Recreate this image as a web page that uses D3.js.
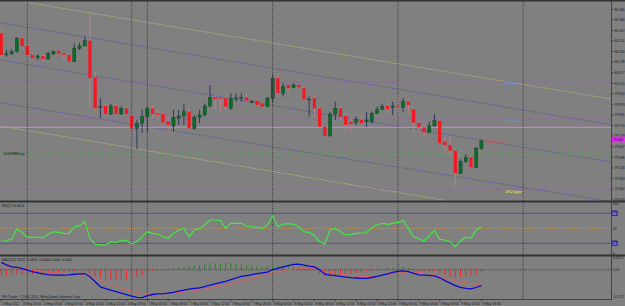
<!DOCTYPE html>
<html><head><meta charset="utf-8">
<script src="https://cdn.jsdelivr.net/npm/d3@7"></script>
<style>html,body{margin:0;padding:0;background:#808080;overflow:hidden}svg{display:block}text{font-family:"Liberation Sans",Arial,sans-serif}</style>
</head><body><svg id="c" width="625" height="306"></svg>
<script>
// ---------- DATA (USDJPY H1) ----------
const open = [80.306,80.183,80.186,80.199,80.277,80.232,80.180,80.166,80.174,80.157,
80.186,80.205,80.190,80.180,80.141,80.219,80.232,80.263,80.050,79.878,
79.884,79.837,79.884,79.837,79.870,79.826,79.754,79.783,79.822,79.870,
79.841,79.837,79.793,79.768,79.812,79.826,79.851,79.754,79.818,79.832,
79.884,79.934,79.930,79.929,79.870,79.927,79.929,79.934,79.907,79.915,
79.899,79.880,79.929,80.045,79.958,80.006,79.992,80.006,79.987,79.921,
79.929,79.870,79.764,79.710,79.837,79.870,79.826,79.793,79.787,79.803,
79.793,79.793,79.841,79.865,79.884,79.876,79.885,79.876,79.909,79.865,
79.787,79.760,79.731,79.768,79.798,79.677,79.657,79.624,79.493,79.561,
79.586,79.528,79.638];
const high = [80.336,80.209,80.213,80.284,80.281,80.238,80.193,80.184,80.180,80.199,
80.205,80.209,80.194,80.190,80.248,80.251,80.286,80.409,80.083,79.930,
79.895,79.895,79.890,79.884,79.878,79.837,79.803,79.861,79.880,79.884,
79.861,79.849,79.822,79.861,79.861,79.899,79.880,79.832,79.861,79.899,
80.006,79.948,79.934,79.938,79.958,79.958,79.958,79.958,79.919,79.929,
79.909,79.938,80.064,80.074,80.016,80.016,80.016,80.012,79.996,79.938,
79.948,79.880,79.774,79.851,79.909,79.880,79.841,79.822,79.822,79.832,
79.851,79.851,79.880,79.895,79.909,79.909,79.948,79.929,79.919,79.880,
79.803,79.783,79.793,79.837,79.807,79.706,79.710,79.638,79.574,79.605,
79.599,79.648,79.691];
const low = [80.168,80.170,80.180,80.194,80.213,80.151,80.151,80.151,80.141,80.151,
80.180,80.180,80.151,80.137,80.139,80.209,80.232,79.872,79.851,79.812,
79.832,79.832,79.832,79.832,79.832,79.750,79.633,79.727,79.729,79.812,
79.803,79.779,79.735,79.735,79.774,79.774,79.748,79.745,79.783,79.822,
79.876,79.861,79.851,79.861,79.861,79.909,79.909,79.909,79.899,79.884,
79.875,79.876,79.899,79.948,79.938,79.967,79.987,79.987,79.921,79.822,
79.822,79.762,79.706,79.706,79.803,79.803,79.745,79.735,79.774,79.774,
79.764,79.783,79.837,79.861,79.841,79.832,79.841,79.851,79.841,79.725,
79.725,79.706,79.725,79.764,79.657,79.605,79.599,79.420,79.489,79.551,
79.522,79.522,79.628];
const close = [80.180,80.186,80.199,80.277,80.232,80.180,80.161,80.174,80.157,80.190,
80.199,80.186,80.180,80.141,80.219,80.232,80.263,80.045,79.870,79.881,
79.837,79.884,79.837,79.870,79.837,79.754,79.783,79.822,79.870,79.837,
79.832,79.787,79.774,79.818,79.826,79.851,79.754,79.818,79.832,79.884,
79.934,79.923,79.927,79.880,79.929,79.930,79.934,79.915,79.910,79.890,
79.880,79.929,80.045,79.958,79.996,79.987,80.006,79.992,79.923,79.924,
79.870,79.764,79.710,79.837,79.870,79.822,79.774,79.779,79.807,79.783,
79.803,79.841,79.865,79.880,79.865,79.884,79.883,79.909,79.890,79.787,
79.760,79.731,79.768,79.798,79.667,79.657,79.624,79.493,79.561,79.586,
79.528,79.638,79.681];
const rsi = [24.6,25.2,28.6,48.6,41.9,31.9,31.9,32.6,31.2,38.6,
43.2,41.9,39.9,39.2,53.2,55.2,63.2,29.9,17.9,16.6,
16.6,23.2,21.2,26.6,25.2,18.6,23.2,33.2,43.2,39.9,
38.6,33.2,29.9,39.9,46.6,49.9,33.2,46.6,49.9,56.6,
66.6,66.6,65.2,49.9,59.9,59.9,59.9,54.6,53.2,51.9,
49.9,56.6,75.2,53.2,58.6,59.2,57.9,53.2,43.2,41.9,
35.2,23.2,18.6,46.6,49.9,43.2,36.6,37.9,39.9,40.6,
41.2,51.2,56.6,59.9,57.9,59.9,61.9,65.2,49.9,33.2,
28.6,24.6,35.2,45.2,27.9,26.6,23.2,13.2,25.2,32.6,
29.9,46.6,53.2];
const macdMain = [0.0314,0.0207,0.0122,0.0101,0.0058,-0.0017,-0.0084,-0.0132,-0.0176,-0.0212,
-0.0226,-0.0226,-0.0226,-0.0216,-0.0193,-0.0172,-0.0162,-0.0297,-0.051,-0.0728,
-0.0804,-0.0872,-0.0933,-0.0996,-0.1061,-0.1125,-0.1177,-0.1189,-0.1101,-0.1055,
-0.1032,-0.1017,-0.0996,-0.096,-0.0916,-0.0864,-0.0824,-0.0795,-0.077,-0.0716,
-0.0659,-0.0602,-0.055,-0.0493,-0.0422,-0.0352,-0.0287,-0.0247,-0.021,-0.017,
-0.0135,-0.0098,0.0009,0.006,0.0125,0.0179,0.0229,0.0235,0.02,0.0158,
0.0122,0.0001,-0.0188,-0.023,-0.0253,-0.0284,-0.0311,-0.0334,-0.0352,-0.0368,
-0.0368,-0.0331,-0.0283,-0.0226,-0.0173,-0.0116,-0.007,-0.0045,-0.008,-0.015,
-0.0222,-0.0226,-0.0242,-0.0263,-0.0342,-0.0466,-0.0571,-0.0675,-0.0751,-0.0794,
-0.0817,-0.0757,-0.0669];
const macdSignal = [0.0196,0.0158,0.0121,0.0085,0.0055,0.0023,-0.0009,-0.0038,-0.007,-0.0102,
-0.0121,-0.0135,-0.0148,-0.016,-0.0175,-0.0187,-0.0217,-0.0294,-0.0366,-0.0444,
-0.0535,-0.0621,-0.0712,-0.0783,-0.0849,-0.0915,-0.0967,-0.101,-0.1049,-0.1046,
-0.1035,-0.1021,-0.1,-0.0979,-0.0962,-0.0945,-0.0923,-0.0895,-0.0866,-0.0825,
-0.078,-0.0734,-0.0692,-0.0646,-0.0601,-0.0545,-0.0487,-0.0433,-0.0396,-0.0342,
-0.027,-0.0217,-0.0149,-0.0081,-0.0035,-0.0003,0.0031,0.0052,0.006,0.006,
0.005,0.0024,-0.0045,-0.0102,-0.0148,-0.0183,-0.0216,-0.0247,-0.0266,-0.0283,
-0.0295,-0.0284,-0.0273,-0.0247,-0.0216,-0.018,-0.0143,-0.0109,-0.0087,-0.0097,
-0.0112,-0.0145,-0.0179,-0.0223,-0.0291,-0.0359,-0.0415,-0.0472,-0.0527,-0.0557,
-0.0595,-0.0612,-0.0629];
const macdHist = [-0.0256,-0.0241,-0.0213,-0.0199,-0.0185,-0.0199,-0.0185,-0.017,-0.017,-0.0156,
-0.0142,-0.0128,-0.0114,-0.0099,-0.0085,-0.0028,0.0028,-0.017,-0.0284,-0.0355,
-0.0398,-0.0426,-0.0454,-0.0426,-0.0398,-0.0369,-0.0312,-0.0227,-0.0114,-0.0057,
-0.0028,0,0.0028,0.0057,0.0085,0.0114,0.0142,0.017,0.0185,0.0213,
0.0256,0.0284,0.0284,0.027,0.0284,0.0256,0.0227,0.0199,0.017,0.0142,
0.0142,0.0142,0.017,0.017,0.017,0.0156,0.0156,0.0142,0.0085,0.0043,
0.0014,-0.017,-0.0284,-0.0256,-0.0227,-0.0199,-0.0185,-0.017,-0.0142,-0.0114,
-0.0085,-0.0057,-0.0028,0.0043,0.0071,0.0085,0.0099,0.0114,0.0085,0.0043,
-0.0028,-0.0085,-0.0085,-0.0071,-0.0142,-0.0213,-0.0284,-0.0341,-0.0312,-0.0284,
-0.0256,-0.0199,-0.0114];
const priceTicks = ["80.445","80.384","80.322","80.261","80.200","80.138","80.077","80.015","79.954","79.893",
"79.831","79.770","79.709","79.647","79.586","79.524","79.463","79.402","79.340"];
const timeTickBars = [0,4,8,12,16,20,24,28,32,36,40,44,48,52,56,60,64,68,72,76,80,84,88,92];
const timeTickLabels = ["3 May 2012","3 May 23:00","4 May 03:00","4 May 07:00","4 May 11:00","4 May 15:00",
"4 May 19:00","7 May 00:00","7 May 04:00","7 May 08:00","7 May 12:00","7 May 16:00","7 May 20:00",
"8 May 00:00","8 May 04:00","8 May 08:00","8 May 12:00","8 May 16:00","8 May 20:00","9 May 00:00",
"9 May 04:00","9 May 08:00","9 May 12:00","9 May 16:00"];
const daySeparatorBars = [5,25,28,52,76,100];
const channelBars = [0,120];
const blueUpper = [80.366,79.759];
const blueMid = [80.150,79.543];
const blueLower = [79.902,79.313];
const yellowUpper = [80.509,79.909];
const yellowLower = [79.767,79.159];
const dashDotLevels = [80.023,79.808,79.402];
const levelLabels = ["80.023","79.808","19.2 pips"];
const magentaLevel = 79.760;
const orderLevel = 79.603;
const rsiTicks = ["100","80","50","20","0"];
const macdTicks = ["0.0513","0.00","-0.1217"];

// ---------- LAYOUT ----------
const svg = d3.select('#c');
const PR = 611; // right edge of plot
const x = d3.scaleLinear().domain([0,100]).range([1.2,523.2]);
const yP = d3.scaleLinear().domain([79.340,80.445]).range([199.7,9.3]);
const yR = d3.scaleLinear().domain([0,100]).range([253.3,203.3]);
const yM = d3.scaleLinear().domain([-0.1217,0.0513]).range([298.3,257.7]);
const FS = 3.3, TXT = '#1a1a1a';

svg.append('rect').attr('width',625).attr('height',306).attr('fill','#808080');
const defs = svg.append('defs');
function clip(id,y0,y1){defs.append('clipPath').attr('id',id).append('rect').attr('x',0).attr('y',y0).attr('width',PR).attr('height',y1-y0);}
clip('cm',2,200.5); clip('cr',202.5,254.5); clip('cd',256.5,299);

// ---------- MAIN PANEL ----------
const gm = svg.append('g').attr('clip-path','url(#cm)');
// day separators (all panels)
const gs = svg.append('g');
gs.selectAll('line').data(daySeparatorBars).join('line')
  .attr('x1',d=>x(d)).attr('x2',d=>x(d)).attr('y1',2).attr('y2',299)
  .attr('stroke','#2e2e2e').attr('stroke-width',0.8).attr('stroke-dasharray','1,1');

// channel lines
const chan = [[yellowUpper,'#c9c37a'],[blueUpper,'#4b4ba0'],[blueMid,'#4b4ba0'],[blueLower,'#4b4ba0'],[yellowLower,'#c9c37a']];
chan.forEach(([arr,col])=>{
  gm.append('line').attr('x1',x(channelBars[0])).attr('y1',yP(arr[0]))
    .attr('x2',x(channelBars[1])).attr('y2',yP(arr[1]))
    .attr('stroke',col).attr('stroke-width',0.9).attr('stroke-dasharray','1,1.2');
});
// dash-dot levels
gm.selectAll('line.dd').data(dashDotLevels).join('line').attr('class','dd')
  .attr('x1',0).attr('x2',PR).attr('y1',d=>yP(d)).attr('y2',d=>yP(d))
  .attr('stroke','#9a5cb4').attr('stroke-width',0.9).attr('stroke-dasharray','4,1.5,1,1.5');
// order line (green dotted)
gm.append('line').attr('x1',0).attr('x2',PR).attr('y1',yP(orderLevel)).attr('y2',yP(orderLevel))
  .attr('stroke','#52b352').attr('stroke-width',0.8).attr('stroke-dasharray','1,1.5');
// magenta level
gm.append('line').attr('x1',0).attr('x2',PR).attr('y1',yP(magentaLevel)).attr('y2',yP(magentaLevel))
  .attr('stroke','#c77fcf').attr('stroke-width',1.3);

// candles
const idx = d3.range(open.length);
gm.selectAll('line.wk').data(idx).join('line').attr('class','wk')
  .attr('x1',i=>x(i)).attr('x2',i=>x(i)).attr('y1',i=>yP(high[i])).attr('y2',i=>yP(low[i]))
  .attr('stroke',i=>close[i]>=open[i]?'#27305a':'#c2808f').attr('stroke-width',0.9);
const BW = 3.2;
gm.selectAll('rect.bd').data(idx).join('rect').attr('class','bd')
  .attr('x',i=>x(i)-BW/2).attr('width',BW)
  .attr('y',i=>yP(Math.max(open[i],close[i])))
  .attr('height',i=>Math.max(0.9,Math.abs(yP(open[i])-yP(close[i]))))
  .attr('fill',i=>close[i]>=open[i]?'#0c6d28':'#f41820')
  .attr('stroke',i=>close[i]>=open[i]?'#173a22':'none').attr('stroke-width',0.4);

// level text labels
const lblX = x(100)-18;
svg.append('text').attr('x',lblX).attr('y',yP(dashDotLevels[0])+3.3).attr('font-size',4).attr('fill','#5d9be6').text(levelLabels[0]);
svg.append('text').attr('x',lblX).attr('y',yP(dashDotLevels[1])+3.3).attr('font-size',4).attr('fill','#5d9be6').text(levelLabels[1]);
svg.append('text').attr('x',lblX).attr('y',yP(dashDotLevels[2])+4).attr('font-size',4).attr('fill','#ffff40').text(levelLabels[2]);
svg.append('text').attr('x',3).attr('y',yP(orderLevel)+1).attr('font-size',FS).attr('fill','#222').text('#60098BB buy');
svg.append('text').attr('x',x(92)+4).attr('y',yP(close[92])+2.5).attr('font-size',FS).attr('fill','#e04848').text('79.6810 +5.1');

// price axis
const ga = svg.append('g');
priceTicks.forEach(s=>{
  const yy = yP(+s);
  ga.append('line').attr('x1',PR).attr('x2',PR+2.5).attr('y1',yy).attr('y2',yy).attr('stroke','#222').attr('stroke-width',0.6);
  ga.append('text').attr('x',PR+3.5).attr('y',yy+1.2).attr('font-size',FS).attr('fill',TXT).text(s);
});
// current price box
const cy = yP(close[92]) - 1.5;
svg.append('rect').attr('x',PR+0.5).attr('y',cy-2.8).attr('width',13.5).attr('height',5.6).attr('fill','#ff1cff');
svg.append('text').attr('x',PR+2).attr('y',cy+1.2).attr('font-size',FS).attr('fill','#202020').text(close[92].toFixed(3));

// ---------- RSI PANEL ----------
const gr = svg.append('g').attr('clip-path','url(#cr)');
[80,20].forEach(v=>gr.append('line').attr('x1',0).attr('x2',PR).attr('y1',yR(v)).attr('y2',yR(v)).attr('stroke','#4a4aa6').attr('stroke-width',0.9));
gr.append('line').attr('x1',0).attr('x2',PR).attr('y1',yR(50)).attr('y2',yR(50)).attr('stroke','#d89a3a').attr('stroke-width',0.8).attr('stroke-dasharray','1,1.2');
gr.append('path').datum(idx).attr('fill','none').attr('stroke','#3df03d').attr('stroke-width',1.1)
  .attr('d',d3.line().x(i=>x(i)).y(i=>yR(rsi[i])));
svg.append('text').attr('x',2).attr('y',207).attr('font-size',FS).attr('fill',TXT).text('RSI(7) 53.4624');
rsiTicks.forEach(s=>{
  const v=+s, yy=yR(v);
  if(v===80||v===20){
    svg.append('rect').attr('x',PR+1.5).attr('y',yy-2.4).attr('width',5).attr('height',4.8).attr('fill','#2a2ab8').attr('stroke','#15157a').attr('stroke-width',0.4);
    svg.append('text').attr('x',PR+2).attr('y',yy+1.2).attr('font-size',3).attr('fill','#e0e0ff').text(s);
  } else {
    svg.append('text').attr('x',PR+2).attr('y',yy+1.2).attr('font-size',FS).attr('fill',TXT).text(s);
  }
});

// ---------- MACD PANEL ----------
const gd = svg.append('g').attr('clip-path','url(#cd)');
gd.append('line').attr('x1',0).attr('x2',PR).attr('y1',yM(0)).attr('y2',yM(0)).attr('stroke','#2a2a2a').attr('stroke-width',0.7).attr('stroke-dasharray','1,1');
gd.selectAll('line.h').data(idx).join('line').attr('class','h')
  .attr('x1',i=>x(i)).attr('x2',i=>x(i)).attr('y1',yM(0)).attr('y2',i=>yM(macdHist[i]))
  .attr('stroke',i=>macdHist[i]>=0?'#138a13':'#ff1a1a').attr('stroke-width',0.9);
gd.append('path').datum(idx).attr('fill','none').attr('stroke','#e25a5a').attr('stroke-width',0.9)
  .attr('d',d3.line().x(i=>x(i)).y(i=>yM(macdSignal[i])));
gd.append('path').datum(idx).attr('fill','none').attr('stroke','#0a0ad0').attr('stroke-width',1.3)
  .attr('d',d3.line().x(i=>x(i)).y(i=>yM(macdMain[i])));
svg.append('text').attr('x',2).attr('y',260.5).attr('font-size',FS).attr('fill',TXT).text('MACD(12,26,9) -0.0409 -0.0408 0.0000 -0.0051');
svg.append('text').attr('x',2).attr('y',297.5).attr('font-size',FS).attr('fill',TXT).text('IFX Trader, © 2001-2012, MetaQuotes Software Corp.');
macdTicks.forEach(s=>{
  const yy = Math.min(297.8, Math.max(259, yM(+s)+1.2));
  svg.append('text').attr('x',PR+2).attr('y',yy).attr('font-size',FS).attr('fill',TXT).text(s);
});

// ---------- FRAME ----------
const fr = svg.append('g').attr('stroke','#333');
fr.append('line').attr('x1',0).attr('x2',625).attr('y1',0.8).attr('y2',0.8).attr('stroke-width',1.6);
fr.append('line').attr('x1',0).attr('x2',625).attr('y1',201.5).attr('y2',201.5).attr('stroke-width',1.8);
fr.append('line').attr('x1',0).attr('x2',625).attr('y1',255.5).attr('y2',255.5).attr('stroke-width',1.8);
fr.append('line').attr('x1',0).attr('x2',PR).attr('y1',299.5).attr('y2',299.5).attr('stroke-width',0.8);
fr.append('line').attr('x1',PR+0.5).attr('x2',PR+0.5).attr('y1',0).attr('y2',300).attr('stroke-width',0.8);

// ---------- TIME AXIS ----------
const gt = svg.append('g');
timeTickBars.forEach((b,k)=>{
  gt.append('line').attr('x1',x(b)).attr('x2',x(b)).attr('y1',299.5).attr('y2',301.5).attr('stroke','#222').attr('stroke-width',0.6);
  gt.append('text').attr('x',x(b)+1).attr('y',304.6).attr('font-size',FS).attr('fill',TXT).text(timeTickLabels[k]);
});
</script></body></html>
